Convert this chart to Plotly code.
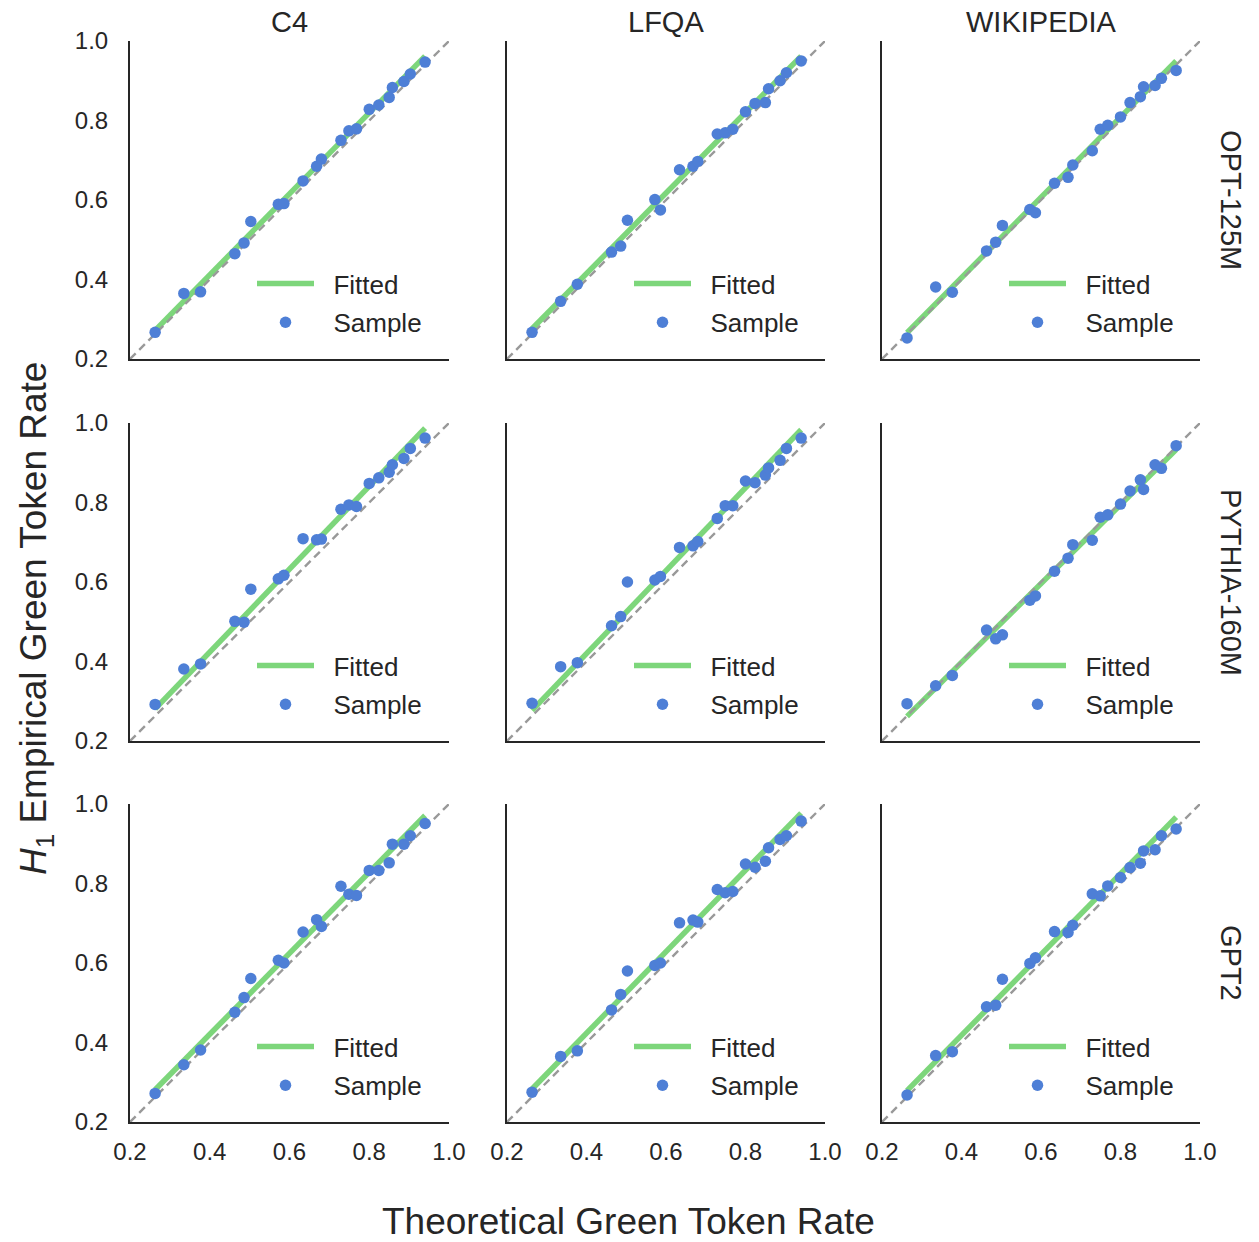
import plotly.graph_objects as go

# ---------------- data ----------------
datasets = ["C4", "LFQA", "WIKIPEDIA"]
models = ["OPT-125M", "PYTHIA-160M", "GPT2"]
tick_vals = [0.2, 0.4, 0.6, 0.8, 1.0]
tick_text = ["0.2", "0.4", "0.6", "0.8", "1.0"]
axis_range = [0.2, 1.0]

# theoretical green token rate (shared by all panels)
theoretical = [0.263, 0.335, 0.377, 0.463, 0.486, 0.503, 0.572, 0.586, 0.634, 0.668,
               0.680, 0.729, 0.749, 0.768, 0.800, 0.824, 0.850, 0.858, 0.887, 0.903, 0.940]

# empirical rates, per model (row) and dataset (column)
opt_c4 = [0.267, 0.365, 0.369, 0.465, 0.492, 0.546, 0.589, 0.591, 0.648, 0.685,
          0.703, 0.750, 0.774, 0.779, 0.828, 0.839, 0.858, 0.883, 0.898, 0.917, 0.947]
opt_lfqa = [0.267, 0.345, 0.388, 0.469, 0.484, 0.549, 0.601, 0.575, 0.676, 0.685,
            0.697, 0.766, 0.769, 0.778, 0.822, 0.843, 0.845, 0.880, 0.900, 0.920, 0.950]
opt_wiki = [0.253, 0.381, 0.368, 0.472, 0.494, 0.536, 0.576, 0.568, 0.642, 0.657,
            0.688, 0.724, 0.778, 0.788, 0.809, 0.845, 0.860, 0.885, 0.888, 0.906, 0.926]
pythia_c4 = [0.292, 0.381, 0.394, 0.501, 0.499, 0.582, 0.608, 0.617, 0.709, 0.706,
             0.708, 0.783, 0.794, 0.790, 0.848, 0.862, 0.876, 0.895, 0.911, 0.936, 0.962]
pythia_lfqa = [0.295, 0.387, 0.397, 0.490, 0.513, 0.600, 0.605, 0.614, 0.687, 0.691,
               0.702, 0.760, 0.792, 0.792, 0.854, 0.850, 0.869, 0.887, 0.906, 0.936, 0.962]
pythia_wiki = [0.294, 0.339, 0.365, 0.479, 0.457, 0.467, 0.554, 0.565, 0.627, 0.660,
               0.694, 0.705, 0.763, 0.769, 0.796, 0.829, 0.857, 0.833, 0.895, 0.886, 0.943]
gpt2_c4 = [0.272, 0.344, 0.381, 0.476, 0.513, 0.561, 0.607, 0.600, 0.678, 0.709,
           0.692, 0.793, 0.773, 0.770, 0.833, 0.833, 0.852, 0.899, 0.899, 0.920, 0.951]
gpt2_lfqa = [0.275, 0.365, 0.379, 0.482, 0.521, 0.580, 0.594, 0.600, 0.701, 0.708,
             0.703, 0.785, 0.777, 0.780, 0.849, 0.841, 0.856, 0.890, 0.911, 0.920, 0.957]
gpt2_wiki = [0.268, 0.367, 0.377, 0.490, 0.494, 0.559, 0.599, 0.613, 0.679, 0.677,
             0.695, 0.774, 0.769, 0.794, 0.815, 0.840, 0.851, 0.882, 0.885, 0.920, 0.937]

empirical = [[opt_c4, opt_lfqa, opt_wiki],
             [pythia_c4, pythia_lfqa, pythia_wiki],
             [gpt2_c4, gpt2_lfqa, gpt2_wiki]]

# fitted line end values (at first and last theoretical rate)
fit_start = [[0.272, 0.276, 0.266],
             [0.281, 0.277, 0.262],
             [0.281, 0.283, 0.279]]
fit_end = [[0.962, 0.962, 0.950],
           [0.987, 0.983, 0.933],
           [0.971, 0.977, 0.967]]

# ---------------- layout geometry (pixels) ----------------
W, H = 1259, 1242
col_px = [(130, 449), (507, 825), (882, 1200)]
row_px = [(41, 359), (423, 741), (804, 1122)]

GREEN = "#7dd67b"
BLUE = "#4e7fd6"
DARK = "#262626"
FONT = "Liberation Sans, Arial, sans-serif"
NB = "\u00a0\u00a0"

fig = go.Figure()
layout = dict(
    width=W, height=H,
    margin=dict(l=0, r=0, t=0, b=0, autoexpand=False),
    paper_bgcolor="white", plot_bgcolor="white",
    font=dict(family=FONT, color=DARK, size=24),
    showlegend=True,
    annotations=[],
)

for r in range(3):
    for c in range(3):
        k = r * 3 + c + 1
        xa = "x" if k == 1 else f"x{k}"
        ya = "y" if k == 1 else f"y{k}"
        leg = "legend" if k == 1 else f"legend{k}"
        x0 = theoretical[0]
        x1 = theoretical[-1]
        # fitted line
        fig.add_trace(go.Scatter(
            x=[x0, x1], y=[fit_start[r][c], fit_end[r][c]], mode="lines",
            line=dict(color=GREEN, width=5.5), name=NB + "Fitted",
            xaxis=xa, yaxis=ya, legend=leg, legendgroup=f"f{k}", showlegend=True))
        # diagonal reference
        fig.add_trace(go.Scatter(
            x=axis_range, y=axis_range, mode="lines",
            line=dict(color="#999999", width=2.4, dash="8px,5px"),
            xaxis=xa, yaxis=ya, showlegend=False, hoverinfo="skip"))
        # samples
        fig.add_trace(go.Scatter(
            x=theoretical, y=empirical[r][c], mode="markers",
            marker=dict(color=BLUE, size=11.5, line=dict(width=0)), name=NB + "Sample",
            xaxis=xa, yaxis=ya, legend=leg, legendgroup=f"s{k}", showlegend=True))

        cx0, cx1 = col_px[c]
        ry0, ry1 = row_px[r]
        xdom = [cx0 / W, cx1 / W]
        ydom = [1 - ry1 / H, 1 - ry0 / H]
        xkey = "xaxis" if k == 1 else f"xaxis{k}"
        ykey = "yaxis" if k == 1 else f"yaxis{k}"
        layout[xkey] = dict(
            domain=xdom, range=axis_range, anchor=ya,
            showline=True, linecolor=DARK, linewidth=2, mirror=False,
            showgrid=False, zeroline=False,
            ticks="outside", ticklen=7, tickcolor="rgba(0,0,0,0)",
            tickvals=tick_vals, ticktext=tick_text,
            showticklabels=(r == 2), tickfont=dict(size=24, color=DARK))
        layout[ykey] = dict(
            domain=ydom, range=axis_range, anchor=xa,
            showline=True, linecolor=DARK, linewidth=2, mirror=False,
            showgrid=False, zeroline=False,
            ticks="outside", ticklen=15, tickcolor="rgba(0,0,0,0)",
            tickvals=tick_vals, ticktext=tick_text,
            showticklabels=(c == 0), tickfont=dict(size=24, color=DARK))
        layout[leg] = dict(
            x=(cx0 + 122) / W, y=1 - (ry0 + 219) / H,
            xanchor="left", yanchor="top",
            bgcolor="rgba(0,0,0,0)", borderwidth=0,
            font=dict(size=26, color=DARK, family=FONT),
            itemwidth=57, traceorder="grouped", tracegroupgap=2,
        )

# column titles
for c, name in enumerate(datasets):
    cx = (col_px[c][0] + col_px[c][1]) / 2
    layout["annotations"].append(dict(
        text=name, x=cx / W, y=1 - 22 / H, xref="paper", yref="paper",
        xanchor="center", yanchor="middle", showarrow=False,
        font=dict(size=29, color=DARK, family=FONT)))

# row titles
for r, name in enumerate(models):
    cy = (row_px[r][0] + row_px[r][1]) / 2
    layout["annotations"].append(dict(
        text=name, x=1231 / W, y=1 - cy / H, xref="paper", yref="paper",
        xanchor="center", yanchor="middle", showarrow=False, textangle=90,
        font=dict(size=29, color=DARK, family=FONT)))

# global axis titles
layout["annotations"].append(dict(
    text="Theoretical Green Token Rate", x=628 / W, y=1 - 1221 / H,
    xref="paper", yref="paper", xanchor="center", yanchor="middle",
    showarrow=False, font=dict(size=37, color=DARK, family=FONT)))
layout["annotations"].append(dict(
    text="<i>H</i><sub>1</sub> Empirical Green Token Rate", x=36 / W, y=1 - 619 / H,
    xref="paper", yref="paper", xanchor="center", yanchor="middle",
    showarrow=False, textangle=-90, font=dict(size=37, color=DARK, family=FONT)))

fig.update_layout(**layout)
fig.write_html("out.html")
